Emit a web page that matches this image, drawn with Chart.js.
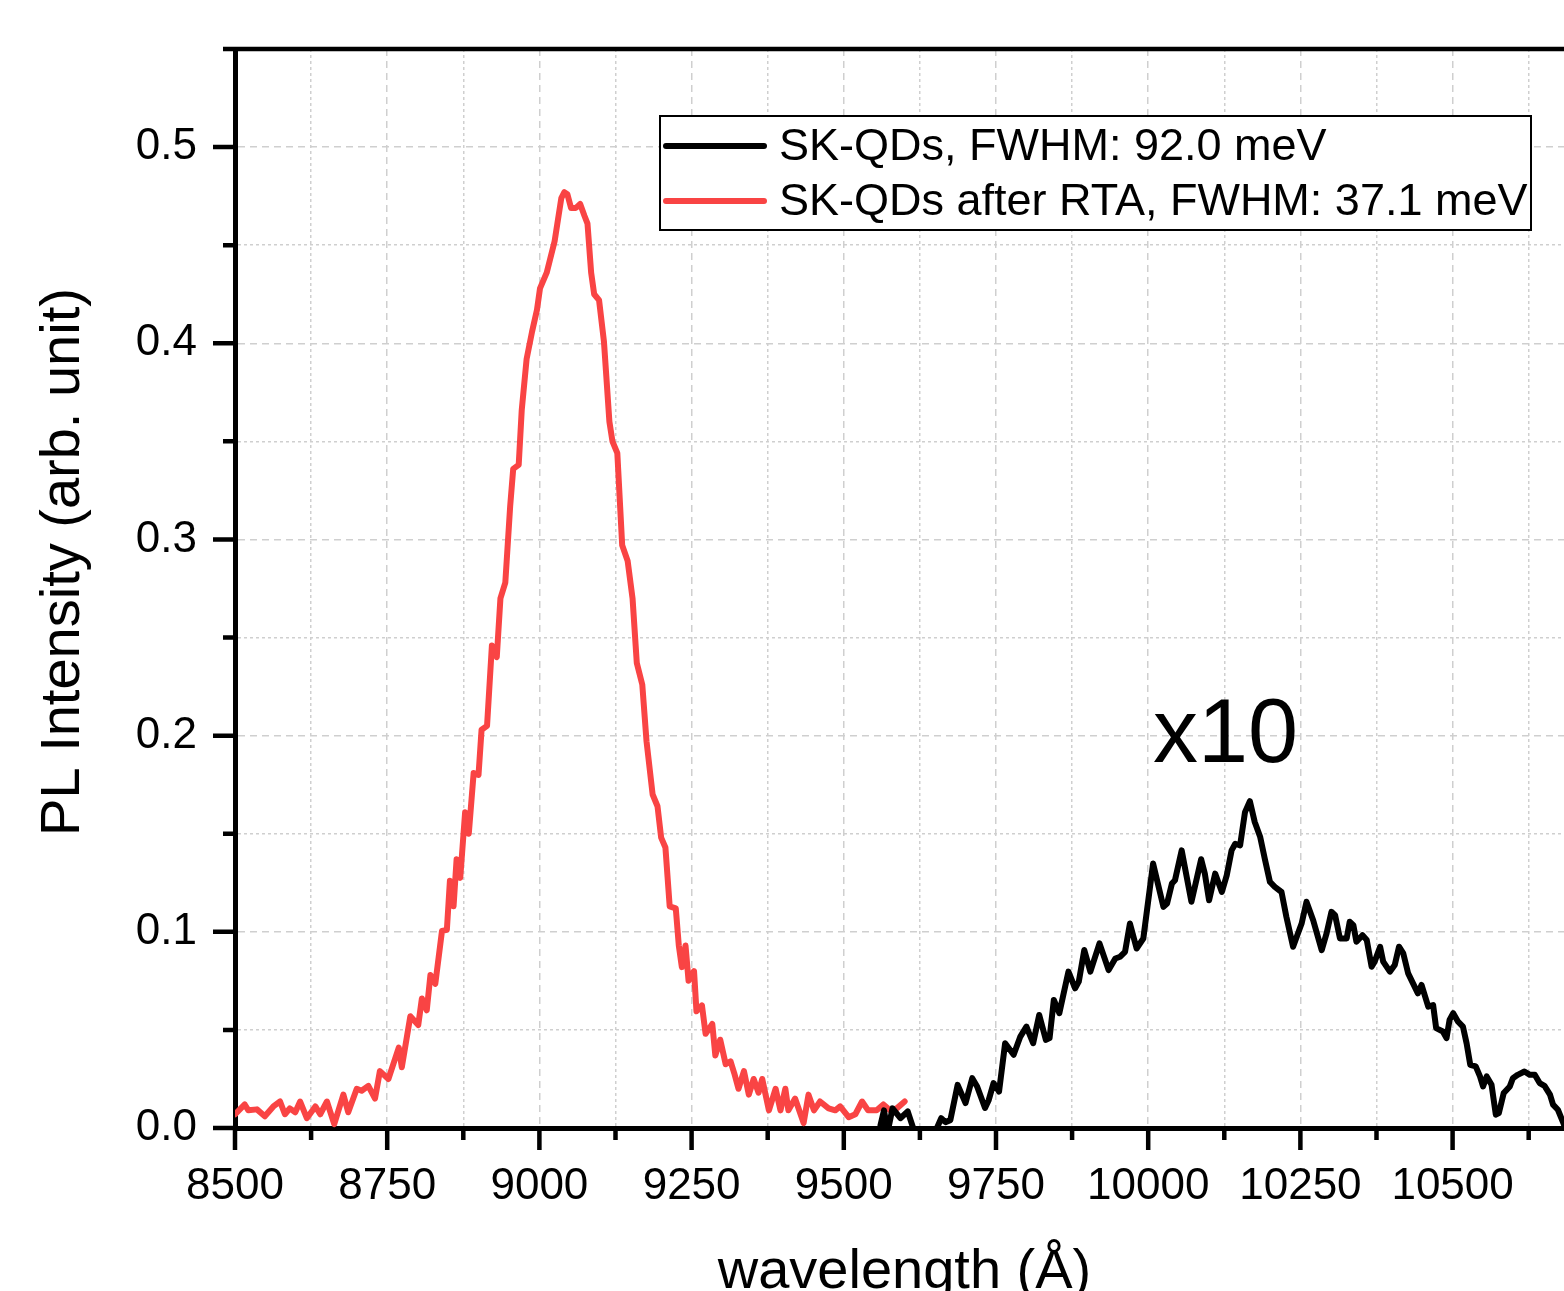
<!DOCTYPE html>
<html>
<head>
<meta charset="utf-8">
<title>PL spectra</title>
<script src="https://cdn.jsdelivr.net/npm/chart.js@4/dist/chart.umd.min.js"></script>
<style>
    html, body { margin: 0; padding: 0; background: #fff; }
    canvas { display: block; }
</style>
</head>
<body>
<canvas id="pl-chart" width="1564" height="1291"></canvas>
<script>
const FONT = '"Liberation Sans", Arial, Helvetica, sans-serif';

// SK-QDs after RTA (red)
const rtaWavelength = [
    8500, 8516, 8522, 8536, 8549, 8563, 8574, 8582, 8590, 8599, 8607, 8618, 8632, 8640, 8651, 8663,
    8678, 8686, 8700, 8708, 8719, 8730, 8738, 8752, 8769, 8774, 8788, 8801, 8807, 8815, 8821, 8829,
    8840, 8848, 8853, 8859, 8864, 8870, 8878, 8884, 8892, 8900, 8905, 8914, 8922, 8930, 8936, 8944,
    8952, 8957, 8966, 8971, 8979, 8988, 8996, 9001, 9012, 9025, 9036, 9041, 9046, 9052, 9060, 9067,
    9074, 9079, 9085, 9090, 9098, 9106, 9115, 9120, 9128, 9136, 9145, 9153, 9160, 9169, 9176, 9186,
    9194, 9200, 9207, 9214, 9224, 9229, 9234, 9240, 9245, 9254, 9258, 9267, 9273, 9284, 9289, 9297,
    9306, 9314, 9320, 9327, 9336, 9344, 9352, 9360, 9366, 9377, 9388, 9396, 9404, 9409, 9420, 9434,
    9442, 9451, 9461, 9475, 9486, 9494, 9508, 9519, 9530, 9540, 9554, 9565, 9576, 9587, 9600,
];
const rtaIntensity = [
    0.007, 0.012, 0.009, 0.0095, 0.006, 0.011, 0.0135, 0.007, 0.010, 0.008, 0.0135, 0.005, 0.011, 0.007, 0.0135, 0.002,
    0.017, 0.008, 0.020, 0.019, 0.0215, 0.015, 0.029, 0.025, 0.041, 0.031, 0.057, 0.0525, 0.066, 0.060, 0.078, 0.0735,
    0.1005, 0.101, 0.126, 0.113, 0.137, 0.1275, 0.161, 0.150, 0.181, 0.180, 0.203, 0.205, 0.246, 0.240, 0.270, 0.278,
    0.317, 0.336, 0.338, 0.366, 0.392, 0.406, 0.417, 0.428, 0.436, 0.452, 0.474, 0.477, 0.476, 0.469, 0.469, 0.471,
    0.465, 0.461, 0.436, 0.425, 0.422, 0.401, 0.360, 0.350, 0.344, 0.297, 0.289, 0.270, 0.237, 0.226, 0.197, 0.170,
    0.164, 0.148, 0.143, 0.113, 0.112, 0.093, 0.082, 0.093, 0.075, 0.080, 0.0595, 0.0625, 0.048, 0.053, 0.037, 0.045,
    0.0325, 0.034, 0.028, 0.020, 0.029, 0.017, 0.025, 0.018, 0.025, 0.009, 0.020, 0.009, 0.020, 0.009, 0.015, 0.0025,
    0.017, 0.009, 0.0135, 0.010, 0.009, 0.011, 0.0055, 0.007, 0.0135, 0.009, 0.009, 0.012, 0.009, 0.010, 0.0135,
];

// SK-QDs as grown, shown x10 (black)
const skWavelength = [
    9555, 9560, 9566, 9572, 9580, 9593, 9605, 9615, 9626, 9640, 9653, 9660, 9667, 9675, 9687, 9700,
    9711, 9719, 9732, 9738, 9746, 9755, 9765, 9779, 9790, 9800, 9811, 9821, 9832, 9838, 9845, 9854,
    9869, 9880, 9886, 9895, 9905, 9920, 9935, 9946, 9954, 9962, 9970, 9981, 9992, 10008, 10025, 10031,
    10039, 10044, 10055, 10071, 10087, 10093, 10100, 10110, 10121, 10129, 10137, 10143, 10151, 10159, 10167, 10175,
    10184, 10192, 10200, 10208, 10219, 10227, 10238, 10244, 10252, 10260, 10271, 10285, 10293, 10301, 10307, 10315,
    10326, 10331, 10337, 10342, 10352, 10359, 10367, 10372, 10381, 10386, 10397, 10405, 10412, 10419, 10427, 10435,
    10443, 10449, 10460, 10468, 10473, 10484, 10490, 10495, 10501, 10509, 10517, 10523, 10529, 10538, 10545, 10550,
    10556, 10564, 10571, 10576, 10584, 10594, 10599, 10607, 10618, 10627, 10635, 10643, 10651, 10660, 10665, 10673,
    10682, 10690,
];
const skIntensity = [
    -0.004, 0.001, 0.009, -0.002, 0.010, 0.005, 0.0085, -0.001, -0.010, -0.008, 0.000, 0.005, 0.003, 0.004, 0.022, 0.0127,
    0.0254, 0.0212, 0.0102, 0.0142, 0.0229, 0.0186, 0.0432, 0.0373, 0.0466, 0.0517, 0.0432, 0.0576, 0.0449, 0.0458, 0.0653, 0.0585,
    0.0797, 0.0712, 0.0746, 0.0907, 0.0797, 0.0941, 0.0805, 0.0864, 0.0873, 0.0898, 0.1042, 0.0915, 0.0966, 0.1348, 0.1127, 0.1144,
    0.1246, 0.1263, 0.1415, 0.1153, 0.137, 0.1297, 0.1161, 0.1297, 0.1203, 0.1288, 0.1415, 0.1449, 0.1441, 0.161, 0.1666, 0.156,
    0.1483, 0.1365, 0.1254, 0.1229, 0.1203, 0.1076, 0.0924, 0.0975, 0.1042, 0.1153, 0.1059, 0.0907, 0.0992, 0.1102, 0.1085, 0.0966,
    0.0966, 0.1051, 0.1034, 0.0949, 0.0983, 0.0958, 0.0822, 0.0848, 0.0924, 0.0848, 0.0797, 0.0831, 0.0924, 0.0890, 0.0788, 0.0737,
    0.0686, 0.0729, 0.0619, 0.0627, 0.0509, 0.0492, 0.0458, 0.0551, 0.0585, 0.0542, 0.0517, 0.0432, 0.0322, 0.0314, 0.0263, 0.0212,
    0.0263, 0.0220, 0.0068, 0.0076, 0.0178, 0.0212, 0.0254, 0.0271, 0.0288, 0.0271, 0.0271, 0.0229, 0.0215, 0.0170, 0.0119, 0.0093,
    0.0025, -0.005,
];

const seriesLabels = ['SK-QDs, FWHM: 92.0 meV', 'SK-QDs after RTA, FWHM: 37.1 meV'];
const seriesColors = ['#000000', '#f94444'];

const X_MIN = 8500, X_MAX = 10683, X_STEP = 125, X_LABEL_EVERY = 250;
const Y_MIN = 0, Y_MAX = 0.55, Y_STEP = 0.05;

const scaleNote = { text: 'x10', x: 10127, y: 0.2 };
const xTitle = 'wavelength (\u00c5)';
const yTitle = 'PL Intensity (arb. unit)';

function toPoints(xs, ys) {
    return xs.map((x, i) => ({ x, y: ys[i] }));
}

function isMajorX(v) {
    return Math.round(v) % X_LABEL_EVERY === 0;
}

function isMajorY(v) {
    return Math.round(v * 100) % 10 === 0;
}

// tick marks, top frame line, legend box, titles and the x10 note
const decorations = {
    id: 'decorations',
    afterDraw(chart) {
        const { ctx, chartArea: area, scales: { x, y } } = chart;
        ctx.save();

        ctx.strokeStyle = '#000';
        ctx.lineWidth = 4.5;
        ctx.beginPath();
        x.ticks.forEach((t) => {
            const px = x.getPixelForValue(t.value);
            ctx.moveTo(px, area.bottom);
            ctx.lineTo(px, area.bottom + (isMajorX(t.value) ? 22 : 12));
        });
        y.ticks.forEach((t) => {
            const py = y.getPixelForValue(t.value);
            ctx.moveTo(area.left, py);
            ctx.lineTo(area.left - (isMajorY(t.value) ? 22 : 12), py);
        });
        ctx.moveTo(area.left, area.top);
        ctx.lineTo(area.right, area.top);
        ctx.stroke();

        // legend
        const box = { left: area.left + 425, top: area.top + 67, width: 871, height: 114 };
        ctx.fillStyle = '#fff';
        ctx.fillRect(box.left, box.top, box.width, box.height);
        ctx.lineWidth = 2;
        ctx.strokeRect(box.left, box.top, box.width, box.height);
        ctx.font = '45px ' + FONT;
        ctx.textBaseline = 'middle';
        ctx.textAlign = 'left';
        chart.data.datasets.forEach((ds, i) => {
            const rowY = box.top + 30 + i * 55;
            ctx.strokeStyle = ds.borderColor;
            ctx.lineWidth = 6;
            ctx.lineCap = 'round';
            ctx.beginPath();
            ctx.moveTo(box.left + 6, rowY);
            ctx.lineTo(box.left + 104, rowY);
            ctx.stroke();
            ctx.fillStyle = '#000';
            ctx.fillText(ds.label, box.left + 119, rowY + 2);
        });

        // x10 note
        ctx.font = '90px ' + FONT;
        ctx.textAlign = 'center';
        ctx.fillText(scaleNote.text, x.getPixelForValue(scaleNote.x), y.getPixelForValue(scaleNote.y) + 2);

        // axis titles
        ctx.font = '56px ' + FONT;
        ctx.textBaseline = 'alphabetic';
        ctx.fillText(xTitle, (area.left + area.right) / 2 + 5, area.bottom + 160);
        ctx.translate(area.left - 156, area.top + 513);
        ctx.rotate(-Math.PI / 2);
        ctx.fillText(yTitle, 0, 0);

        ctx.restore();
    },
};

function gridDash(major) {
    return (c) => (c.tick && major(c.tick.value) ? [7, 5] : [3, 3]);
}

function spectrum(label, xs, ys, color) {
    return {
        label,
        data: toPoints(xs, ys),
        borderColor: color,
        borderWidth: 6,
        borderJoinStyle: 'round',
        borderCapStyle: 'round',
        pointRadius: 0,
        tension: 0,
        clip: 0,
    };
}

Chart.defaults.font.family = FONT;

new Chart(document.getElementById('pl-chart'), {
    type: 'line',
    data: {
        datasets: [
            spectrum(seriesLabels[0], skWavelength, skIntensity, seriesColors[0]),
            spectrum(seriesLabels[1], rtaWavelength, rtaIntensity, seriesColors[1]),
        ],
    },
    options: {
        responsive: false,
        animation: false,
        events: [],
        layout: { padding: { top: 49, right: 0, bottom: 0, left: 0 } },
        plugins: { legend: { display: false }, tooltip: { enabled: false } },
        scales: {
            x: {
                type: 'linear',
                min: X_MIN,
                max: X_MAX,
                grid: { color: '#cfcfcf', lineWidth: 1.5, drawTicks: false },
                border: { color: '#000', width: 5, dash: gridDash(isMajorX) },
                ticks: {
                    stepSize: X_STEP,
                    includeBounds: false,
                    autoSkip: false,
                    maxRotation: 0,
                    padding: 32,
                    color: '#000',
                    font: { size: 44 },
                    callback: (v) => (isMajorX(v) ? String(Math.round(v)) : ''),
                },
                afterFit(scale) {
                    scale.height = 163;
                    scale.paddingLeft = 0;
                    scale.paddingRight = 0;
                },
            },
            y: {
                min: Y_MIN,
                max: Y_MAX,
                grid: { color: '#cfcfcf', lineWidth: 1.5, drawTicks: false },
                border: { color: '#000', width: 5, dash: gridDash(isMajorY) },
                ticks: {
                    stepSize: Y_STEP,
                    includeBounds: false,
                    autoSkip: false,
                    padding: 38,
                    color: '#000',
                    font: { size: 44 },
                    callback: (v) => (isMajorY(v) ? v.toFixed(1) : ''),
                },
                afterFit(scale) {
                    scale.width = 235;
                    scale.paddingTop = 0;
                    scale.paddingBottom = 0;
                },
            },
        },
    },
    plugins: [decorations],
});
</script>
</body>
</html>
